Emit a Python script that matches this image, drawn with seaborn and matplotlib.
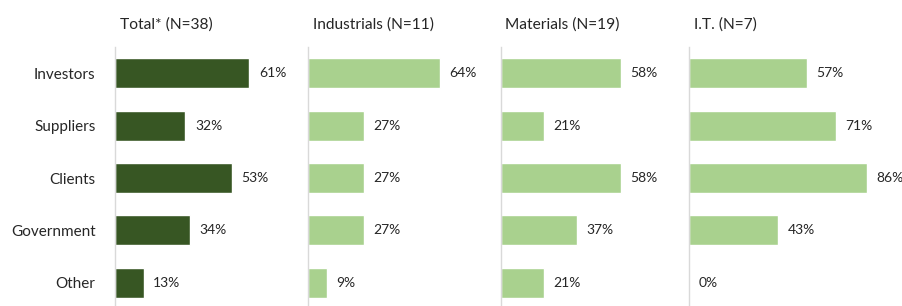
import matplotlib
matplotlib.use('Agg')
import matplotlib.pyplot as plt
from matplotlib.transforms import offset_copy
import seaborn as sns

# Data
categories = ['Investors', 'Suppliers', 'Clients', 'Government', 'Other']
titles = ['Total* (N=38)', 'Industrials (N=11)', 'Materials (N=19)', 'I.T. (N=7)']
total = [61, 32, 53, 34, 13]
industrials = [64, 27, 27, 27, 9]
materials = [58, 21, 58, 37, 21]
it = [57, 71, 86, 43, 0]
series = [total, industrials, materials, it]

DARK = '#375623'
LIGHT = '#A9D18E'
TEXT = '#262626'


def main():
    sns.set_style('white')
    plt.rcParams['font.family'] = ['Lato', 'DejaVu Sans']

    fig = plt.figure(figsize=(9.02, 3.06), dpi=100)
    W, H = 902, 306
    # axes in pixel terms: left, width, xmax
    panels = [(115, 192, 87.3), (308, 192, 93.2), (500.5, 189, 91.3), (689, 212, 102.5)]
    top, bottom = 47, 309

    for i, (vals, title, (left, width, xmax)) in enumerate(zip(series, titles, panels)):
        ax = fig.add_axes([left / W, (H - bottom) / H, width / W, (bottom - top) / H])
        color = DARK if i == 0 else LIGHT
        sns.barplot(x=vals, y=categories, ax=ax, color=color, width=0.57,
                    orient='h', saturation=1)
        ax.set_xlim(0, xmax)
        ax.set_xticks([])
        ax.set_xlabel('')
        ax.set_ylabel('')
        for s in ['top', 'right', 'bottom']:
            ax.spines[s].set_visible(False)
        ax.spines['left'].set_color('#D9D9D9')
        ax.spines['left'].set_linewidth(1.0)
        ax.tick_params(axis='y', length=0, pad=14, labelsize=11, labelcolor=TEXT)
        if i > 0:
            ax.set_yticklabels([])
        # value labels
        for j, v in enumerate(vals):
            ax.annotate(f'{v}%', xy=(v, j), xytext=(7, 0), textcoords='offset points',
                        va='center', ha='left', fontsize=10, color=TEXT)
        # panel title
        ax.text(0.025, 1.0, title, fontsize=11.2, color=TEXT, ha='left', va='bottom',
                transform=offset_copy(ax.transAxes, fig=fig, x=0, y=11, units='points'))

    fig.savefig('out.png', dpi=100)


if __name__ == '__main__':
    main()
